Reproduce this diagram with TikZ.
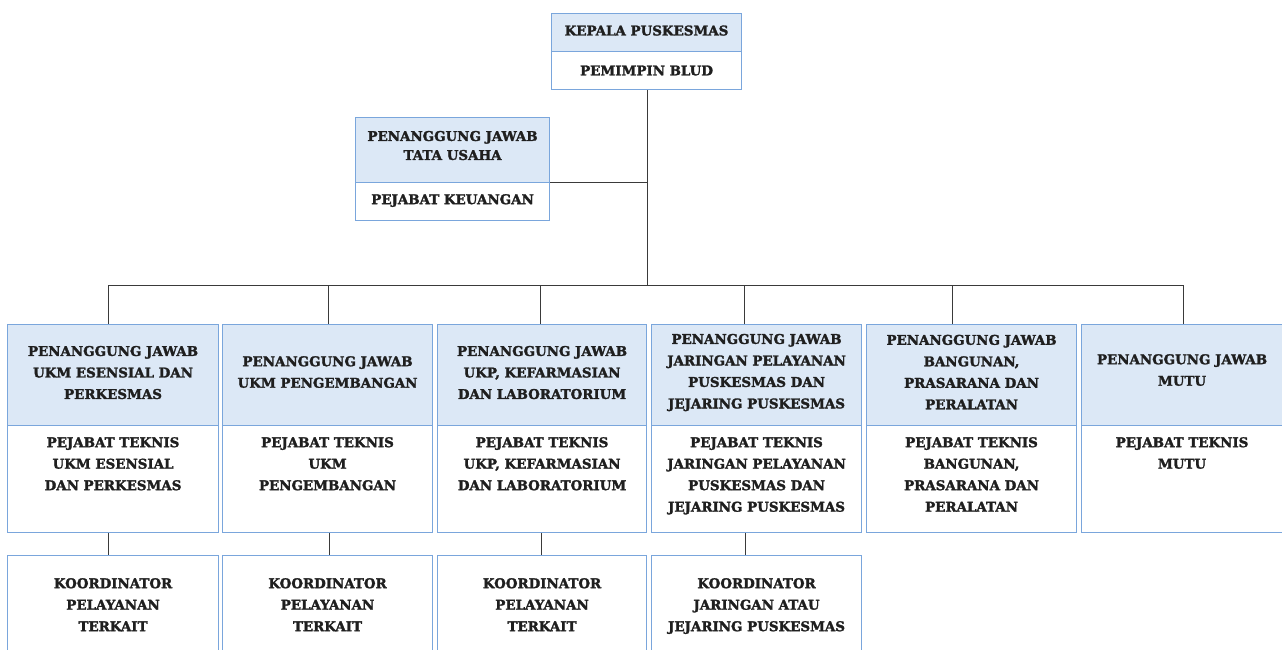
\documentclass[tikz,border=0pt]{standalone}
\usepackage{fontspec}
\setmainfont{DejaVu Serif}[BoldFeatures={FakeBold=2}]
\definecolor{hdrfill}{HTML}{DCE8F6}
\definecolor{boxline}{HTML}{7AA6DC}
\definecolor{conline}{HTML}{3A3A3A}
\begin{document}
\begin{tikzpicture}[x=1pt,y=-1pt,
  box/.style={draw=boxline, line width=1.1pt, inner sep=0pt, anchor=north west},
  hdr/.style={box, fill=hdrfill},
  wht/.style={box, fill=white},
  txt/.style={font=\bfseries\fontsize{13.4}{21.5}\selectfont, align=center, inner sep=0pt, text=black!88},
  con/.style={draw=conline, line width=1pt}]
\useasboundingbox (0,0) rectangle (1282,650);
\clip (0,0) rectangle (1282,650);
\fill[white] (0,0) rectangle (1282,650);

% top box
\node[hdr, minimum width=190pt, minimum height=38pt] (kh) at (551,13) {};
\node[wht, minimum width=190pt, minimum height=38pt] (kw) at (551,51) {};
\node[txt] (kht) at ([yshift=2pt]kh.center) {KEPALA PUSKESMAS};
\node[txt] (kwt) at (kw.center) {PEMIMPIN BLUD};

% tata usaha
\node[hdr, minimum width=194pt, minimum height=65pt] (th) at (355,117) {};
\node[wht, minimum width=194pt, minimum height=38pt] (tw) at (355,182) {};
\node[txt, font=\bfseries\fontsize{13.4}{19}\selectfont] (tht) at ([yshift=4.5pt]th.center) {PENANGGUNG JAWAB\\TATA USAHA};
\node[txt] (twt) at ([yshift=1pt]tw.center) {PEJABAT KEUANGAN};

% columns
\foreach \i/\xl/\w in {1/7/211, 2/222/210, 3/437/209, 4/651/210, 5/866/210, 6/1081/201}{
  \node[hdr, minimum width=\w pt, minimum height=101pt] (h\i) at (\xl,324) {};
  \node[wht, minimum width=\w pt, minimum height=107pt] (w\i) at (\xl,425) {};
}
\foreach \i/\xl/\w in {1/7/211, 2/222/210, 3/437/209, 4/651/210}{
  \node[wht, minimum width=\w pt, minimum height=110pt] (b\i) at (\xl,555) {};
}

\node[txt] (h1t) at ([yshift=2.5pt]h1.center) {PENANGGUNG JAWAB\\UKM ESENSIAL DAN\\PERKESMAS};
\node[txt] (h2t) at ([yshift=3pt]h2.center) {PENANGGUNG JAWAB\\UKM PENGEMBANGAN};
\node[txt] (h3t) at ([yshift=2.5pt]h3.center) {PENANGGUNG JAWAB\\UKP, KEFARMASIAN\\DAN LABORATORIUM};
\node[txt] (h4t) at ([yshift=2.5pt]h4.center) {PENANGGUNG JAWAB\\JARINGAN PELAYANAN\\PUSKESMAS DAN\\JEJARING PUSKESMAS};
\node[txt] (h5t) at ([yshift=3pt]h5.center) {PENANGGUNG JAWAB\\BANGUNAN,\\PRASARANA DAN\\PERALATAN};
\node[txt] (h6t) at ([yshift=5pt]h6.center) {PENANGGUNG JAWAB\\MUTU};

\node[txt, anchor=north] (w1t) at ([yshift=-12pt]w1.north) {PEJABAT TEKNIS\\UKM ESENSIAL\\DAN PERKESMAS};
\node[txt, anchor=north] (w2t) at ([yshift=-12pt]w2.north) {PEJABAT TEKNIS\\UKM\\PENGEMBANGAN};
\node[txt, anchor=north] (w3t) at ([yshift=-12pt]w3.north) {PEJABAT TEKNIS\\UKP, KEFARMASIAN\\DAN LABORATORIUM};
\node[txt, anchor=north] (w4t) at ([yshift=-12pt]w4.north) {PEJABAT TEKNIS\\JARINGAN PELAYANAN\\PUSKESMAS DAN\\JEJARING PUSKESMAS};
\node[txt, anchor=north] (w5t) at ([yshift=-12pt]w5.north) {PEJABAT TEKNIS\\BANGUNAN,\\PRASARANA DAN\\PERALATAN};
\node[txt, anchor=north] (w6t) at ([yshift=-12pt]w6.north) {PEJABAT TEKNIS\\MUTU};

\node[txt, anchor=north] (b1t) at ([yshift=-23pt]b1.north) {KOORDINATOR\\PELAYANAN\\TERKAIT};
\node[txt, anchor=north] (b2t) at ([yshift=-23pt]b2.north) {KOORDINATOR\\PELAYANAN\\TERKAIT};
\node[txt, anchor=north] (b3t) at ([yshift=-23pt]b3.north) {KOORDINATOR\\PELAYANAN\\TERKAIT};
\node[txt, anchor=north] (b4t) at ([yshift=-23pt]b4.north) {KOORDINATOR\\JARINGAN ATAU\\JEJARING PUSKESMAS};

% connectors
\coordinate (busL) at (108,285);
\coordinate (busR) at (1183,285);
\coordinate (busM) at (647,285);
\foreach \i/\x in {1/108, 2/328, 3/540, 4/744, 5/952, 6/1183}{
  \coordinate (d\i) at (\x,285);
}
\draw[con] (kw.south -| busM) -- (busM);
\draw[con] (busL) -- (busR);
\draw[con] (tw.north east) -- (tw.north east -| busM);
\foreach \i in {1,...,6}{
  \draw[con] (d\i) -- (d\i |- h\i.north);
}
\foreach \i/\x in {1/108, 2/329, 3/541, 4/745}{
  \draw[con] (w\i.south -| \x,0) -- (b\i.north -| \x,0);
}
\end{tikzpicture}
\end{document}
